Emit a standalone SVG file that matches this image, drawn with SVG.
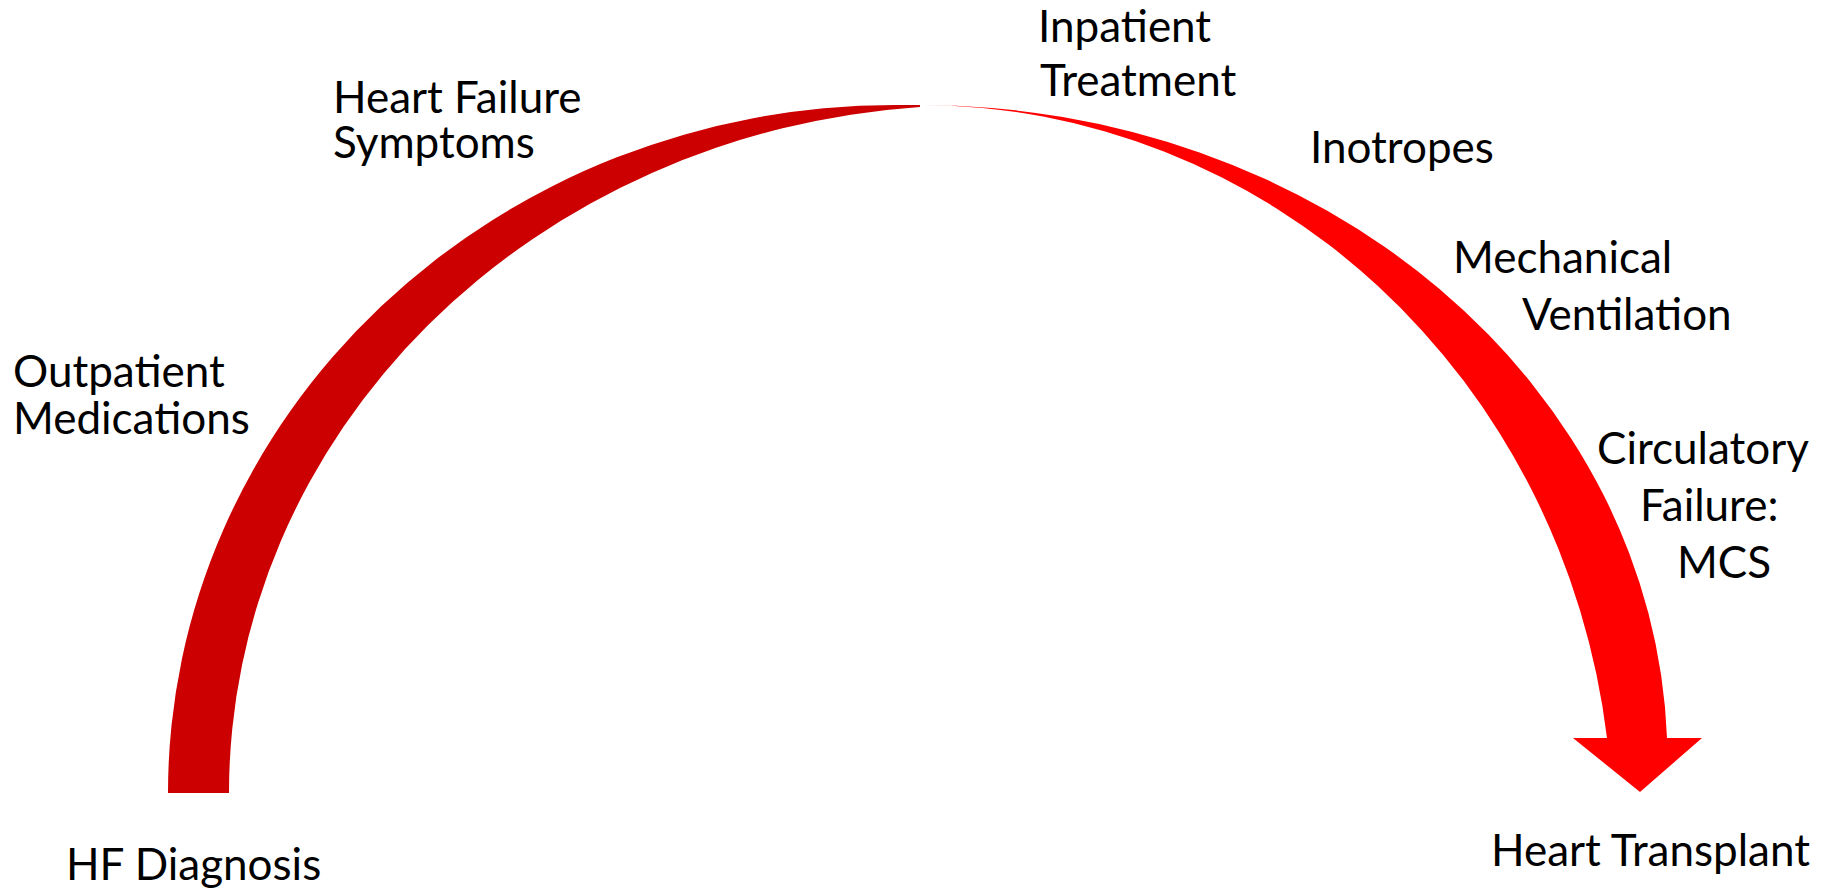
<svg xmlns="http://www.w3.org/2000/svg" width="1829" height="892" viewBox="0 0 1829 892">
<style>
.lbl{font-family:Lato,"Open Sans","Liberation Sans",sans-serif;font-size:44px;fill:#000}
</style>
<rect width="1829" height="892" fill="#fff"/>
<g id="connectors">
<path id="arc-left" d="M168,793 A727,688 0 0 1 895,105 L920,105 L920,106.9 A746,688 0 0 0 229,793 Z" fill="#CC0000"/>
<path id="arc-right" d="M920,105 A747,655 0 0 1 1667,738 L1702,738 L1640,792 L1573,738 L1607,738 A692.6,725 0 0 0 920,105 Z" fill="#FF0000"/>
</g>
<g id="node-outpatient"><text class="lbl" x="13" y="387">Outpatient</text><text class="lbl" x="13" y="434">Medications</text></g>
<g id="node-symptoms"><text class="lbl" x="333" y="113">Heart Failure</text><text class="lbl" x="333" y="158">Symptoms</text></g>
<g id="node-inpatient"><text class="lbl" x="1038" y="42">Inpatient</text><text class="lbl" x="1040" y="96">Treatment</text></g>
<g id="node-inotropes"><text class="lbl" x="1310" y="163">Inotropes</text></g>
<g id="node-ventilation"><text class="lbl" x="1453" y="273">Mechanical</text><text class="lbl" x="1522" y="330">Ventilation</text></g>
<g id="node-mcs"><text class="lbl" x="1597" y="464">Circulatory</text><text class="lbl" x="1640" y="521">Failure:</text><text class="lbl" x="1677" y="578">MCS</text></g>
<g id="node-diagnosis"><text class="lbl" x="66" y="880">HF Diagnosis</text></g>
<g id="node-transplant"><text class="lbl" x="1491" y="866">Heart Transplant</text></g>
</svg>
